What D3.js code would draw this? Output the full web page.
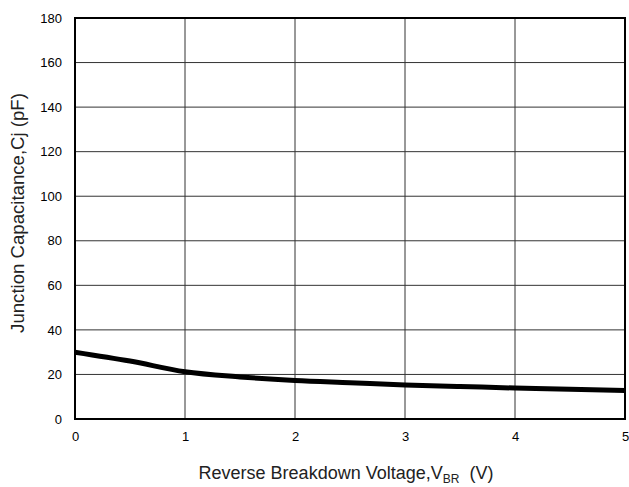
<!DOCTYPE html>
<html><head><meta charset="utf-8">
<script src="https://cdn.jsdelivr.net/npm/d3@7"></script>
<style>body{margin:0;background:#fff}svg{display:block;font-family:"Liberation Sans",Arial,sans-serif}</style>
</head><body><svg id="c" width="629" height="487"></svg>
<script>
const voltage = [0, 0.5, 1, 1.5, 2, 2.5, 3, 3.5, 4, 4.5, 5];
const capacitance = [30, 26.0, 21.2, 18.9, 17.3, 16.3, 15.3, 14.6, 13.9, 13.4, 12.8];
const xTicks = [0, 1, 2, 3, 4, 5];
const yTicks = [0, 20, 40, 60, 80, 100, 120, 140, 160, 180];

const svg = d3.select("#c");
const L = 75, R = 625, T = 18, B = 419;
const x = d3.scaleLinear().domain([0, 5]).range([L, R]);
const y = d3.scaleLinear().domain([0, 180]).range([B, T]);

const g = svg.append("g");
g.selectAll(".vg").data(xTicks.slice(1, -1)).join("line")
  .attr("x1", d => x(d)).attr("x2", d => x(d)).attr("y1", T).attr("y2", B)
  .attr("stroke", "#333").attr("stroke-width", 1);
g.selectAll(".hg").data(yTicks.slice(1, -1)).join("line")
  .attr("x1", L).attr("x2", R).attr("y1", d => y(d)).attr("y2", d => y(d))
  .attr("stroke", "#333").attr("stroke-width", 1);

const line = d3.line().x((d, i) => x(voltage[i])).y(d => y(d)).curve(d3.curveCatmullRom.alpha(0.5));
svg.append("path").datum(capacitance).attr("d", line)
  .attr("fill", "none").attr("stroke", "#000").attr("stroke-width", 5);

svg.append("rect").attr("x", L).attr("y", T).attr("width", R - L).attr("height", B - T)
  .attr("fill", "none").attr("stroke", "#000").attr("stroke-width", 2);

const xAxis = d3.axisBottom(x).tickValues(xTicks).tickSize(0).tickPadding(13).tickFormat(d3.format("d"));
const xa = svg.append("g").attr("transform", `translate(0,${B})`).call(xAxis);
xa.select(".domain").remove();
xa.selectAll("text").attr("font-size", 13).attr("fill", "#000").attr("font-family", "Liberation Sans, Arial, sans-serif");

const yAxis = d3.axisLeft(y).tickValues(yTicks).tickSize(0).tickPadding(13).tickFormat(d3.format("d"));
const ya = svg.append("g").attr("transform", `translate(${L},0)`).call(yAxis);
ya.select(".domain").remove();
ya.selectAll("text").attr("font-size", 13).attr("fill", "#000").attr("font-family", "Liberation Sans, Arial, sans-serif");

const xt = svg.append("text").attr("x", 346).attr("y", 479).attr("text-anchor", "middle")
  .attr("font-size", 18).attr("fill", "#222");
xt.append("tspan").text("Reverse Breakdown Voltage,V");
xt.append("tspan").text("BR").attr("font-size", 12).attr("dy", 4);
xt.append("tspan").text("  (V)").attr("dy", -4).attr("xml:space", "preserve");

svg.append("text").attr("transform", "translate(24,213) rotate(-90)").attr("text-anchor", "middle")
  .attr("font-size", 18.6).attr("fill", "#222").text("Junction Capacitance,Cj (pF)");
</script></body></html>
